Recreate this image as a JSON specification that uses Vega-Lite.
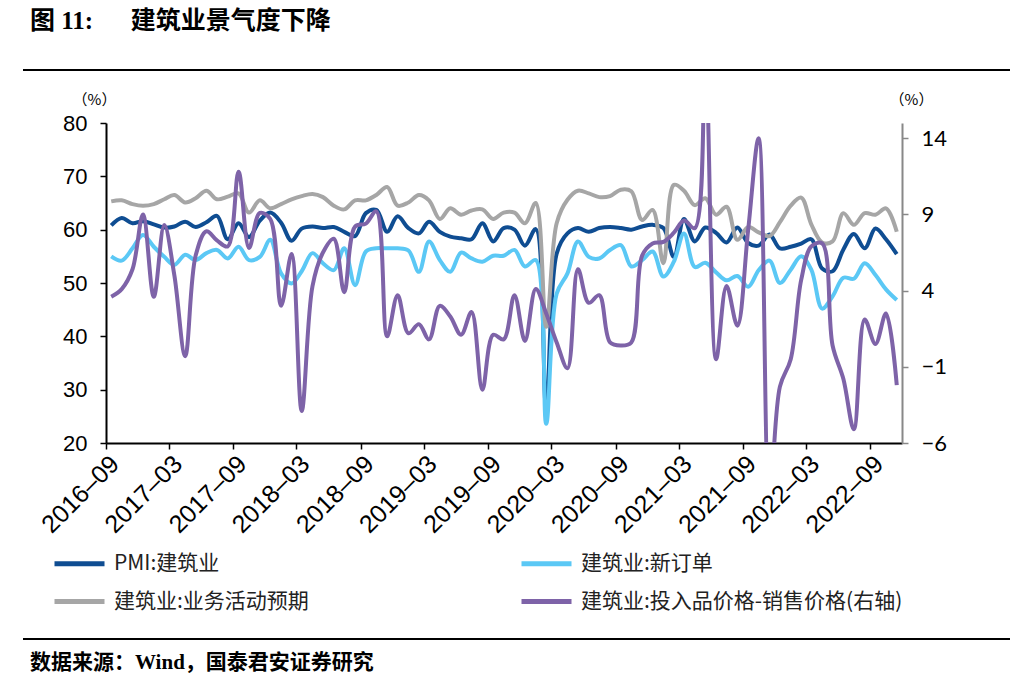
{
  "$schema": "https://vega.github.io/schema/vega-lite/v6.json",
  "background": "white",
  "padding": {"left": 23, "top": 9, "right": 0, "bottom": 0},
  "config": {"view": {"stroke": null}},
  "spacing": 21,
  "resolve": {"scale": {"color": "independent"}, "legend": {"color": "independent"}},
  "vconcat": [
    {
      "width": 987,
      "height": 2,
      "view": {"fill": "#000000", "stroke": null},
      "title": {"text": "图 11:　\u00a0\u00a0建筑业景气度下降", "anchor": "start", "dx": 7, "offset": 35, "font": "Liberation Serif, Noto Sans CJK SC", "fontSize": 25, "fontWeight": "bold", "color": "#000000"},
      "data": {"values": []},
      "mark": "text",
      "encoding": {}
    },
    {
      "spacing": 0,
      "resolve": {"scale": {"color": "independent"}, "legend": {"color": "independent"}},
      "hconcat": [
        {
          "width": 1,
          "height": 1,
          "view": {"stroke": null},
          "data": {"values": []},
          "mark": "text",
          "encoding": {}
        },
        {
          "width": 796,
          "height": 320,
          "data": {"values": [
            {"d": "2016-09-16", "pmi": 60.8, "xdd": 55.0, "yq": 65.3, "jg": 3.6},
            {"d": "2016-10-16", "pmi": 62.2, "xdd": 54.2, "yq": 65.5, "jg": 4.1},
            {"d": "2016-11-16", "pmi": 61.2, "xdd": 56.5, "yq": 64.8, "jg": 5.4},
            {"d": "2016-12-16", "pmi": 61.6, "xdd": 59.0, "yq": 64.5, "jg": 9.0},
            {"d": "2017-01-16", "pmi": 61.0, "xdd": 56.8, "yq": 64.8, "jg": 3.6},
            {"d": "2017-02-15", "pmi": 60.4, "xdd": 54.9, "yq": 65.7, "jg": 8.3},
            {"d": "2017-03-16", "pmi": 60.6, "xdd": 53.4, "yq": 66.5, "jg": 5.0},
            {"d": "2017-04-16", "pmi": 61.5, "xdd": 55.3, "yq": 65.1, "jg": -0.3},
            {"d": "2017-05-16", "pmi": 60.5, "xdd": 54.3, "yq": 65.9, "jg": 6.3},
            {"d": "2017-06-16", "pmi": 61.4, "xdd": 55.6, "yq": 67.3, "jg": 7.9},
            {"d": "2017-07-16", "pmi": 62.6, "xdd": 56.2, "yq": 65.7, "jg": 7.3},
            {"d": "2017-08-16", "pmi": 58.2, "xdd": 54.6, "yq": 66.2, "jg": 6.9},
            {"d": "2017-09-16", "pmi": 61.2, "xdd": 56.8, "yq": 66.8, "jg": 11.8},
            {"d": "2017-10-16", "pmi": 58.6, "xdd": 54.3, "yq": 63.2, "jg": 6.8},
            {"d": "2017-11-16", "pmi": 61.7, "xdd": 54.9, "yq": 65.5, "jg": 9.1},
            {"d": "2017-12-16", "pmi": 63.2, "xdd": 58.1, "yq": 64.0, "jg": 8.7},
            {"d": "2018-01-16", "pmi": 61.3, "xdd": 51.8, "yq": 64.8, "jg": 3.0},
            {"d": "2018-02-15", "pmi": 57.9, "xdd": 49.9, "yq": 65.7, "jg": 6.4},
            {"d": "2018-03-16", "pmi": 60.2, "xdd": 52.2, "yq": 66.3, "jg": -3.9},
            {"d": "2018-04-16", "pmi": 60.6, "xdd": 55.6, "yq": 66.7, "jg": 4.3},
            {"d": "2018-05-16", "pmi": 60.3, "xdd": 53.7, "yq": 66.1, "jg": 6.5},
            {"d": "2018-06-16", "pmi": 60.5, "xdd": 52.4, "yq": 64.5, "jg": 7.4},
            {"d": "2018-07-16", "pmi": 59.6, "xdd": 56.5, "yq": 63.8, "jg": 3.9},
            {"d": "2018-08-16", "pmi": 58.8, "xdd": 49.6, "yq": 65.5, "jg": 8.2},
            {"d": "2018-09-16", "pmi": 63.1, "xdd": 55.9, "yq": 65.5, "jg": 8.4},
            {"d": "2018-10-16", "pmi": 63.7, "xdd": 56.5, "yq": 66.5, "jg": 9.2},
            {"d": "2018-11-16", "pmi": 59.6, "xdd": 56.5, "yq": 68.0, "jg": 1.0},
            {"d": "2018-12-16", "pmi": 62.5, "xdd": 56.5, "yq": 64.5, "jg": 3.7},
            {"d": "2019-01-16", "pmi": 60.3, "xdd": 56.1, "yq": 65.1, "jg": 1.2},
            {"d": "2019-02-15", "pmi": 59.3, "xdd": 52.1, "yq": 66.5, "jg": 1.8},
            {"d": "2019-03-16", "pmi": 61.5, "xdd": 57.8, "yq": 65.5, "jg": 0.8},
            {"d": "2019-04-16", "pmi": 59.6, "xdd": 54.3, "yq": 62.0, "jg": 3.0},
            {"d": "2019-05-16", "pmi": 58.7, "xdd": 52.1, "yq": 64.0, "jg": 2.3},
            {"d": "2019-06-16", "pmi": 58.4, "xdd": 55.7, "yq": 62.8, "jg": 1.1},
            {"d": "2019-07-16", "pmi": 58.2, "xdd": 54.6, "yq": 63.6, "jg": 2.6},
            {"d": "2019-08-16", "pmi": 61.2, "xdd": 54.0, "yq": 63.8, "jg": -2.5},
            {"d": "2019-09-16", "pmi": 57.8, "xdd": 55.1, "yq": 62.0, "jg": 1.1},
            {"d": "2019-10-16", "pmi": 60.3, "xdd": 55.1, "yq": 63.2, "jg": 0.8},
            {"d": "2019-11-16", "pmi": 60.0, "xdd": 56.2, "yq": 63.2, "jg": 3.7},
            {"d": "2019-12-16", "pmi": 57.0, "xdd": 53.1, "yq": 61.2, "jg": 0.7},
            {"d": "2020-01-16", "pmi": 60.1, "xdd": 54.3, "yq": 65.0, "jg": 4.1},
            {"d": "2020-02-15", "pmi": 26.6, "xdd": 23.6, "yq": 41.8, "jg": 2.5},
            {"d": "2020-03-16", "pmi": 55.5, "xdd": 48.0, "yq": 61.2, "jg": 0.6},
            {"d": "2020-04-16", "pmi": 59.3, "xdd": 51.8, "yq": 65.6, "jg": -1.1},
            {"d": "2020-05-16", "pmi": 60.3, "xdd": 57.8, "yq": 67.3, "jg": 5.4},
            {"d": "2020-06-16", "pmi": 59.6, "xdd": 54.9, "yq": 66.8, "jg": 3.2},
            {"d": "2020-07-16", "pmi": 60.3, "xdd": 54.6, "yq": 66.1, "jg": 3.7},
            {"d": "2020-08-16", "pmi": 60.5, "xdd": 56.2, "yq": 66.3, "jg": 0.6},
            {"d": "2020-09-16", "pmi": 60.3, "xdd": 57.1, "yq": 67.5, "jg": 0.4},
            {"d": "2020-10-16", "pmi": 60.0, "xdd": 53.1, "yq": 67.2, "jg": 0.6},
            {"d": "2020-11-16", "pmi": 60.6, "xdd": 54.3, "yq": 61.8, "jg": 6.3},
            {"d": "2020-12-16", "pmi": 60.9, "xdd": 55.9, "yq": 63.7, "jg": 7.1},
            {"d": "2021-01-16", "pmi": 60.3, "xdd": 51.2, "yq": 53.7, "jg": 7.2},
            {"d": "2021-02-15", "pmi": 54.9, "xdd": 54.0, "yq": 68.4, "jg": 7.8},
            {"d": "2021-03-16", "pmi": 62.0, "xdd": 59.3, "yq": 67.3, "jg": 8.6},
            {"d": "2021-04-16", "pmi": 57.8, "xdd": 53.0, "yq": 64.6, "jg": 8.1},
            {"d": "2021-05-16", "pmi": 60.4, "xdd": 53.8, "yq": 65.9, "jg": 19.0},
            {"d": "2021-06-16", "pmi": 59.4, "xdd": 52.0, "yq": 62.8, "jg": -0.5},
            {"d": "2021-07-16", "pmi": 57.6, "xdd": 50.5, "yq": 64.3, "jg": 4.3},
            {"d": "2021-08-16", "pmi": 60.4, "xdd": 51.3, "yq": 58.1, "jg": 1.7},
            {"d": "2021-09-16", "pmi": 57.5, "xdd": 49.3, "yq": 60.5, "jg": 8.0},
            {"d": "2021-10-16", "pmi": 57.0, "xdd": 52.4, "yq": 59.5, "jg": 14.0},
            {"d": "2021-11-16", "pmi": 59.1, "xdd": 54.2, "yq": 58.8, "jg": -10.0},
            {"d": "2021-12-16", "pmi": 56.5, "xdd": 50.0, "yq": 61.4, "jg": -2.3},
            {"d": "2022-01-16", "pmi": 56.8, "xdd": 52.5, "yq": 64.5, "jg": -0.5},
            {"d": "2022-02-15", "pmi": 57.4, "xdd": 55.0, "yq": 66.0, "jg": 4.7},
            {"d": "2022-03-16", "pmi": 58.2, "xdd": 52.5, "yq": 61.0, "jg": 6.9},
            {"d": "2022-04-16", "pmi": 52.7, "xdd": 45.2, "yq": 57.6, "jg": 7.1},
            {"d": "2022-05-16", "pmi": 52.2, "xdd": 47.5, "yq": 57.8, "jg": 0.4},
            {"d": "2022-06-16", "pmi": 56.3, "xdd": 51.0, "yq": 63.1, "jg": -1.8},
            {"d": "2022-07-16", "pmi": 59.2, "xdd": 50.8, "yq": 60.9, "jg": -5.1},
            {"d": "2022-08-16", "pmi": 56.5, "xdd": 53.7, "yq": 63.1, "jg": 2.1},
            {"d": "2022-09-16", "pmi": 60.2, "xdd": 51.5, "yq": 62.8, "jg": 0.5},
            {"d": "2022-10-16", "pmi": 58.2, "xdd": 48.8, "yq": 64.0, "jg": 2.5},
            {"d": "2022-11-16", "pmi": 55.4, "xdd": 46.8, "yq": 59.6, "jg": -2.2}
          ]},
          "encoding": {
            "x": {
              "field": "d",
              "type": "temporal",
              "scale": {"type": "utc", "domain": [{"year": 2016, "month": 9, "date": 1, "utc": true}, {"year": 2022, "month": 12, "date": 1, "utc": true}], "nice": false},
              "axis": {
                "values": [
                  {"year": 2016, "month": 9, "date": 1, "utc": true},
                  {"year": 2017, "month": 3, "date": 1, "utc": true},
                  {"year": 2017, "month": 9, "date": 1, "utc": true},
                  {"year": 2018, "month": 3, "date": 1, "utc": true},
                  {"year": 2018, "month": 9, "date": 1, "utc": true},
                  {"year": 2019, "month": 3, "date": 1, "utc": true},
                  {"year": 2019, "month": 9, "date": 1, "utc": true},
                  {"year": 2020, "month": 3, "date": 1, "utc": true},
                  {"year": 2020, "month": 9, "date": 1, "utc": true},
                  {"year": 2021, "month": 3, "date": 1, "utc": true},
                  {"year": 2021, "month": 9, "date": 1, "utc": true},
                  {"year": 2022, "month": 3, "date": 1, "utc": true},
                  {"year": 2022, "month": 9, "date": 1, "utc": true}
                ],
                "format": "%Y–%m",
                "title": null,
                "grid": false,
                "labelAngle": -45,
                "labelAlign": "right",
                "labelBaseline": "top",
                "labelPadding": 2,
                "labelFont": "Liberation Sans Narrow, Liberation Sans",
                "labelFontSize": 25,
                "labelColor": "#000000",
                "labelOverlap": false,
                "labelFlush": false,
                "tickSize": 6,
                "tickWidth": 1.5,
                "tickColor": "#000000",
                "domainColor": "#000000",
                "domainWidth": 2
              }
            }
          },
          "layer": [
            {
              "layer": [
                {
                  "mark": {"type": "line", "interpolate": "catmull-rom", "strokeWidth": 4, "clip": true},
                  "encoding": {
                    "y": {
                      "field": "pmi",
                      "type": "quantitative",
                      "scale": {"domain": [20, 80], "nice": false, "zero": false},
                      "axis": {
                        "orient": "left",
                        "values": [20, 30, 40, 50, 60, 70, 80],
                        "grid": false,
                        "title": "（%）",
                        "titleAngle": 0,
                        "titleX": -12,
                        "titleY": -24,
                        "titleAlign": "center",
                        "titleBaseline": "middle",
                        "titleFont": "Noto Sans CJK SC",
                        "titleFontSize": 15,
                        "titleFontWeight": "normal",
                        "titleColor": "#000000",
                        "labelFont": "Liberation Sans",
                        "labelFontSize": 22,
                        "labelPadding": 13,
                        "labelColor": "#000000",
                        "tickSize": 6,
                        "tickWidth": 1.5,
                        "tickColor": "#000000",
                        "domainColor": "#000000",
                        "domainWidth": 2,
                        "minExtent": 82
                      }
                    },
                    "color": {
                      "datum": "PMI:建筑业",
                      "type": "nominal",
                      "scale": {
                        "domain": ["PMI:建筑业", "建筑业:业务活动预期", "建筑业:新订单", "建筑业:投入品价格-销售价格(右轴)"],
                        "range": ["#0F4D92", "#A6A6A6", "#5BC8F5", "#7E63A8"]
                      },
                      "legend": {
                        "orient": "none",
                        "legendX": -59,
                        "legendY": 408,
                        "padding": 5,
                        "title": null,
                        "columns": 2,
                        "columnPadding": 202,
                        "rowPadding": -13,
                        "symbolType": "stroke",
                        "symbolSize": 2500,
                        "symbolStrokeWidth": 5,
                        "labelOffset": 7,
                        "labelFont": "Noto Sans CJK SC",
                        "labelFontSize": 21,
                        "labelColor": "#222222",
                        "labelLimit": 600
                      }
                    }
                  }
                },
                {
                  "mark": {"type": "line", "interpolate": "catmull-rom", "strokeWidth": 4, "clip": true},
                  "encoding": {
                    "y": {"field": "xdd", "type": "quantitative"},
                    "color": {"datum": "建筑业:新订单", "type": "nominal"}
                  }
                },
                {
                  "mark": {"type": "line", "interpolate": "catmull-rom", "strokeWidth": 4, "clip": true},
                  "encoding": {
                    "y": {"field": "yq", "type": "quantitative"},
                    "color": {"datum": "建筑业:业务活动预期", "type": "nominal"}
                  }
                }
              ]
            },
            {
              "mark": {"type": "line", "interpolate": "catmull-rom", "strokeWidth": 4, "clip": true},
              "encoding": {
                "y": {
                  "field": "jg",
                  "type": "quantitative",
                  "scale": {"domain": [-6, 15], "nice": false, "zero": false},
                  "axis": {
                    "orient": "right",
                    "values": [-6, -1, 4, 9, 14],
                    "grid": false,
                    "title": "（%）",
                    "titleAngle": 0,
                    "titleX": 9,
                    "titleY": -24,
                    "titleAlign": "center",
                    "titleBaseline": "middle",
                    "titleFont": "Noto Sans CJK SC",
                    "titleFontSize": 15,
                    "titleFontWeight": "normal",
                    "titleColor": "#000000",
                    "labelFont": "Lato",
                    "labelFontSize": 22,
                    "labelPadding": 13,
                    "labelColor": "#000000",
                    "tickSize": 6,
                    "tickWidth": 1.5,
                    "tickColor": "#888888",
                    "domainColor": "#888888",
                    "domainWidth": 2
                  }
                },
                "color": {"datum": "建筑业:投入品价格-销售价格(右轴)", "type": "nominal"}
              }
            }
          ],
          "resolve": {"scale": {"y": "independent"}}
        }
      ]
    },
    {
      "width": 987,
      "height": 2,
      "view": {"fill": "#000000", "stroke": null},
      "title": {"text": "数据来源：Wind，国泰君安证券研究", "orient": "bottom", "anchor": "start", "dx": 7, "offset": 12, "font": "Liberation Serif, Noto Sans CJK SC", "fontSize": 21, "fontWeight": "bold", "color": "#000000"},
      "data": {"values": []},
      "mark": "text",
      "encoding": {}
    }
  ]
}
